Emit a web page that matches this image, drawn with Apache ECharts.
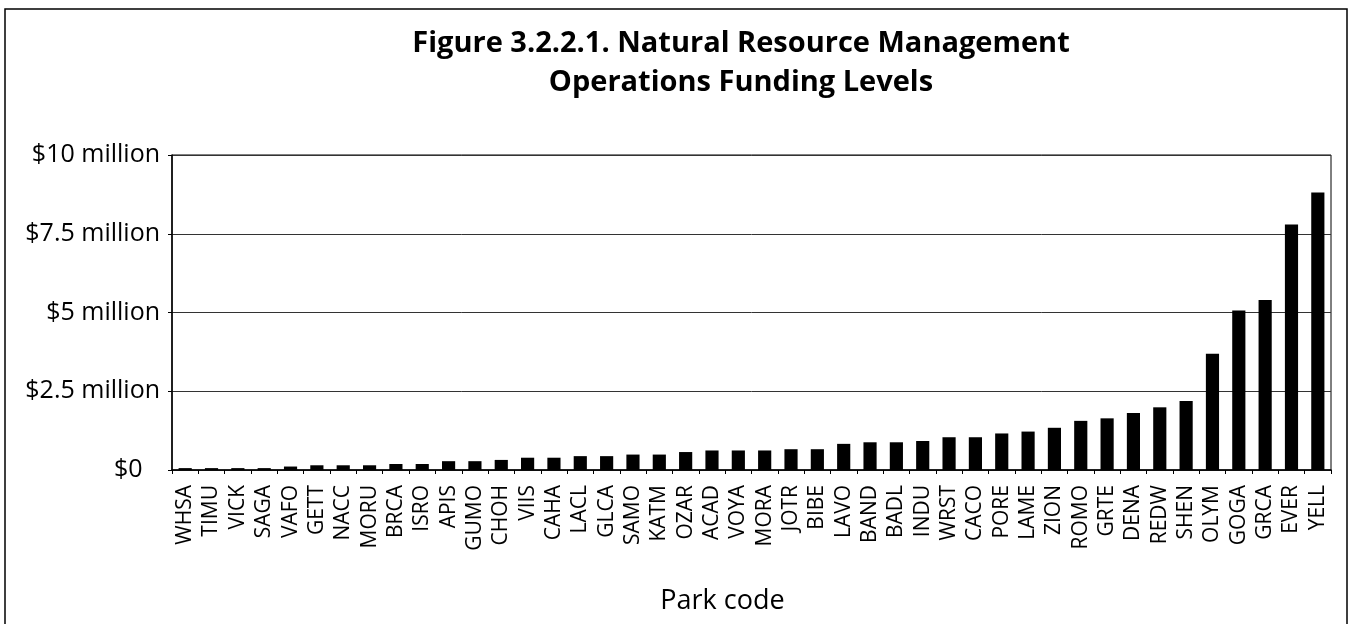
<!DOCTYPE html>
<html>
<head>
<meta charset="utf-8">
<title>Natural Resource Management Operations Funding Levels</title>
<script src="https://cdn.jsdelivr.net/npm/echarts@6/dist/echarts.min.js"></script>
<style>
    html, body { margin: 0; padding: 0; background: #fff; }
    #nrm_bar { width: 1350px; height: 624px; }
</style>
</head>
<body>
<div id="nrm_bar"></div>
<script>
//公园代码
var parkCodes = ['WHSA', 'TIMU', 'VICK', 'SAGA', 'VAFO', 'GETT', 'NACC', 'MORU', 'BRCA', 'ISRO', 'APIS',
    'GUMO', 'CHOH', 'VIIS', 'CAHA', 'LACL', 'GLCA', 'SAMO', 'KATM', 'OZAR', 'ACAD', 'VOYA', 'MORA',
    'JOTR', 'BIBE', 'LAVO', 'BAND', 'BADL', 'INDU', 'WRST', 'CACO', 'PORE', 'LAME', 'ZION', 'ROMO',
    'GRTE', 'DENA', 'REDW', 'SHEN', 'OLYM', 'GOGA', 'GRCA', 'EVER', 'YELL'];
//经费(百万美元)
var fundingMillions = [0.06, 0.06, 0.06, 0.06, 0.11, 0.15, 0.15, 0.15, 0.19, 0.19, 0.28,
    0.28, 0.32, 0.39, 0.39, 0.44, 0.44, 0.49, 0.49, 0.57, 0.62, 0.62, 0.62,
    0.66, 0.66, 0.83, 0.88, 0.88, 0.92, 1.04, 1.04, 1.16, 1.22, 1.34, 1.56,
    1.64, 1.81, 1.99, 2.19, 3.69, 5.06, 5.40, 7.79, 8.81];
//y轴刻度
var yTicks = [0, 2.5, 5, 7.5, 10];
var yTickLabels = ['$0', '$2.5 million', '$5 million', '$7.5 million', '$10 million'];

var titleLines = ['Figure 3.2.2.1. Natural Resource Management', 'Operations Funding Levels'];
var xAxisName = 'Park code';

var fontFamily = '"Open Sans", "Noto Sans", sans-serif';

function init_bar() {
    var barChart = echarts.init(document.getElementById('nrm_bar'));
    var option = {
        backgroundColor: '#fff',
        animation: false,
        textStyle: { fontFamily: fontFamily, color: '#000' },
        title: {
            text: titleLines.join('\n'),
            left: 736,
            top: 19,
            textAlign: 'center',
            textStyle: {
                fontFamily: fontFamily,
                fontSize: 29,
                fontWeight: 'bold',
                color: '#000',
                lineHeight: 39
            }
        },
        graphic: [{
            type: 'rect',
            shape: { x: 5, y: 9, width: 1342, height: 640 },
            style: { fill: 'none', stroke: '#000', lineWidth: 1.5 },
            silent: true
        }],
        grid: {
            left: 172,
            right: 19,
            top: 155,
            bottom: 154,
            show: true,
            borderColor: '#000',
            borderWidth: 1,
            containLabel: false
        },
        xAxis: {
            type: 'category',
            data: parkCodes,
            name: xAxisName,
            nameLocation: 'middle',
            nameGap: 118,
            nameTextStyle: { fontFamily: fontFamily, fontSize: 27, color: '#000', padding: [0, 0, 0, -58] },
            axisLine: { lineStyle: { color: '#000', width: 1.5 } },
            axisTick: { show: true, length: 4, alignWithLabel: false, lineStyle: { color: '#000' } },
            axisLabel: {
                interval: 0,
                rotate: 90,
                margin: 15,
                fontFamily: fontFamily,
                fontSize: 21,
                color: '#000'
            }
        },
        yAxis: {
            type: 'value',
            min: 0,
            max: 10,
            interval: 2.5,
            axisLine: { show: true, lineStyle: { color: '#000', width: 1.5 } },
            axisTick: { show: true, length: 4, inside: false, lineStyle: { color: '#000' } },
            splitLine: { show: true, lineStyle: { color: '#333', width: 1 } },
            axisLabel: {
                margin: 12,
                fontFamily: fontFamily,
                fontSize: 25,
                color: '#000',
                formatter: function (value) {
                    var idx = yTicks.indexOf(value);
                    if (idx < 0) {
                        return '';
                    }
                    //$0 在原图中右侧留有空白
                    return value === 0 ? '{z|' + yTickLabels[idx] + '}' : yTickLabels[idx];
                },
                rich: {
                    z: { fontFamily: fontFamily, fontSize: 25, color: '#000', width: 46, align: 'left' }
                }
            }
        },
        series: [{
            name: 'Funding',
            type: 'bar',
            data: fundingMillions,
            barWidth: '50%',
            itemStyle: { color: '#000' }
        }]
    };
    barChart.setOption(option);
}

init_bar();
</script>
</body>
</html>
